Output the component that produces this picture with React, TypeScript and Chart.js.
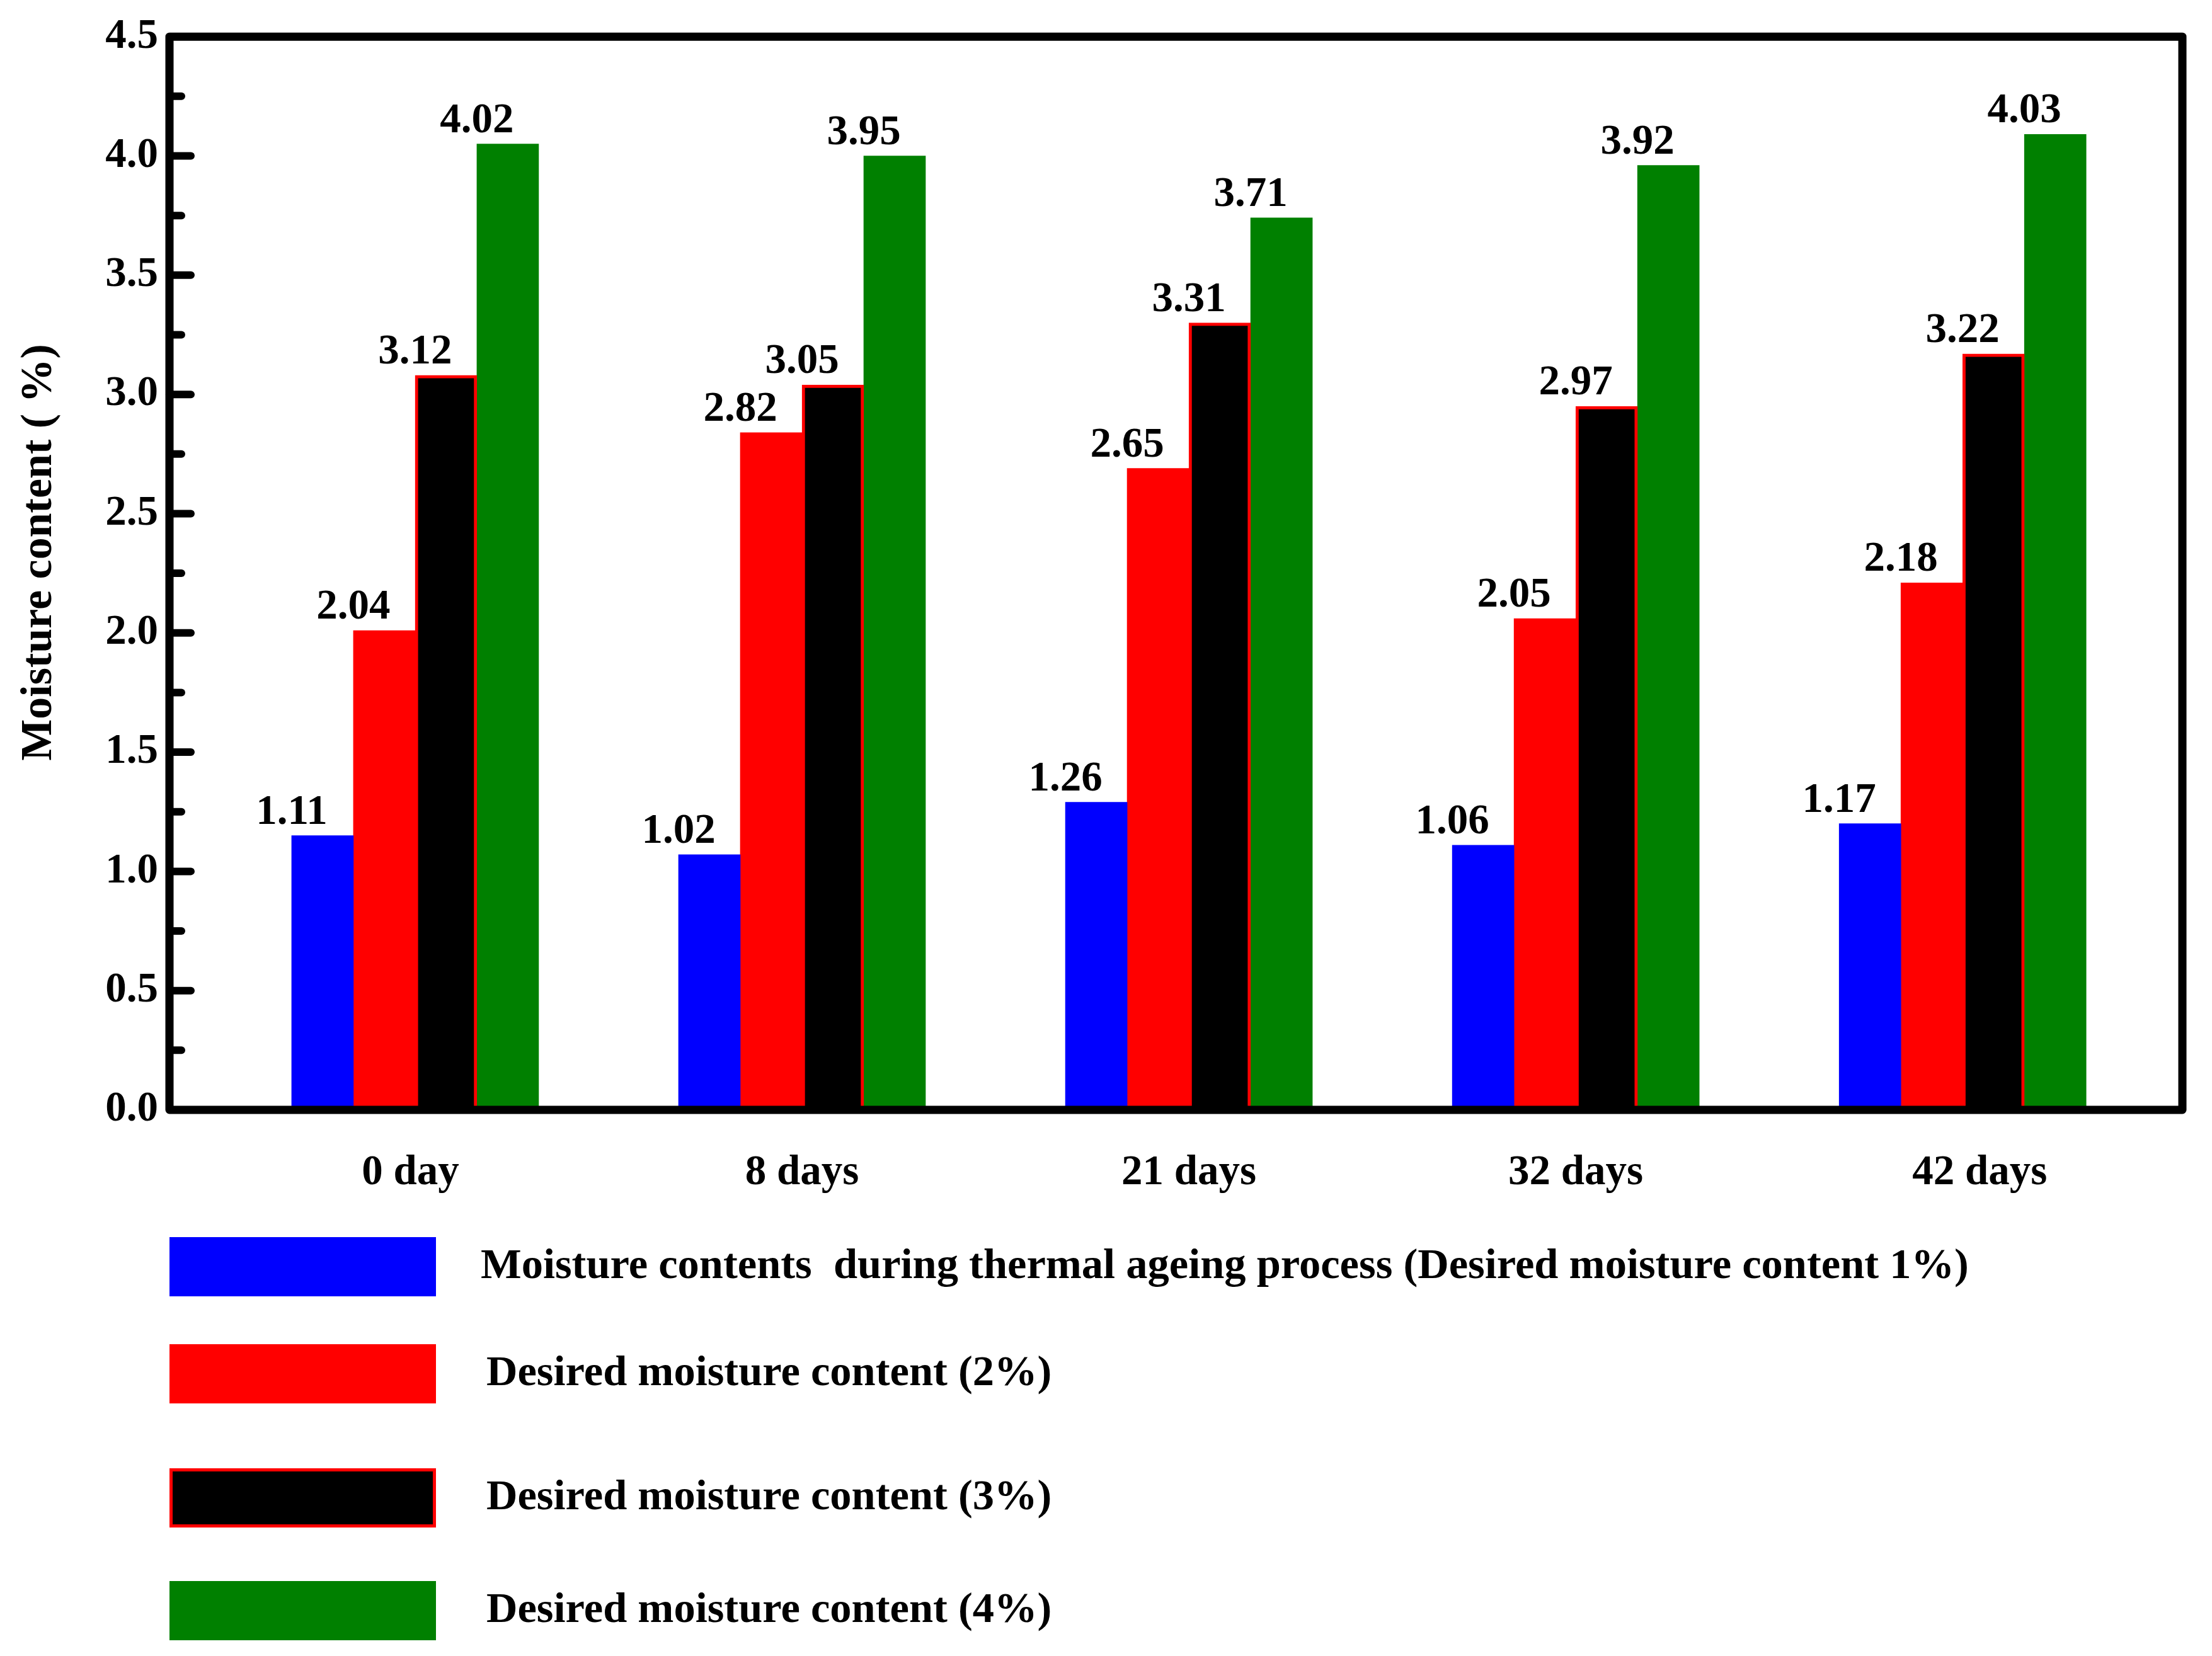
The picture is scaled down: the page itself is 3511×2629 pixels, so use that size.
import * as React from "react";
import { useEffect, useRef } from "react";
import { Chart, registerables } from "chart.js";

const days = ["0 day", "8 days", "21 days", "32 days", "42 days"];
const seriesNames = [
    "Moisture contents  during thermal ageing process (Desired moisture content 1%)",
    "Desired moisture content (2%)",
    "Desired moisture content (3%)",
    "Desired moisture content (4%)",
];
const yTitle = "Moisture content ( %)";
// bar heights
const blueValues = [1.15, 1.07, 1.29, 1.11, 1.2];
const redValues = [2.01, 2.84, 2.69, 2.06, 2.21];
const blackValues = [3.08, 3.04, 3.3, 2.95, 3.17];
const greenValues = [4.05, 4.0, 3.74, 3.96, 4.09];
// numbers printed above the bars
const blueLabels = ["1.11", "1.02", "1.26", "1.06", "1.17"];
const redLabels = ["2.04", "2.82", "2.65", "2.05", "2.18"];
const blackLabels = ["3.12", "3.05", "3.31", "2.97", "3.22"];
const greenLabels = ["4.02", "3.95", "3.71", "3.92", "4.03"];
const valueLabels = [blueLabels, redLabels, blackLabels, greenLabels];

// small horizontal nudges of the day labels (in category units), as in the original
const dayLabelNudge = [-0.012, 0, 0, 0, 0.044];

const FONT = "'Liberation Serif', 'Times New Roman', serif";
const FS = 67;

const frameAndTicks = {
    id: "frameAndTicks",
    afterDatasetsDraw(chart: any) {
        const { ctx, chartArea: a, scales } = chart;
        const y = scales.y;
        ctx.save();
        ctx.strokeStyle = "#000";
        ctx.lineCap = "round";
        ctx.lineWidth = 12;
        for (let i = 1; i < 18; i++) {
            const py = y.getPixelForValue(i * 0.25);
            const len = i % 2 === 0 ? 34 : 19;
            ctx.beginPath();
            ctx.moveTo(a.left, py);
            ctx.lineTo(a.left + len, py);
            ctx.stroke();
        }
        ctx.lineCap = "butt";
        ctx.lineJoin = "round";
        ctx.lineWidth = 13;
        ctx.strokeRect(a.left, a.top, a.right - a.left, a.bottom - a.top);

        // y axis title
        ctx.translate(63, 877);
        ctx.rotate(-Math.PI / 2);
        ctx.font = `bold 70px ${FONT}`;
        ctx.fillStyle = "#000";
        ctx.textAlign = "center";
        ctx.textBaseline = "middle";
        ctx.fillText(yTitle, 0, 0);
        ctx.restore();
    },
};

const barValueLabels = {
    id: "barValueLabels",
    afterDatasetsDraw(chart: any) {
        const { ctx } = chart;
        ctx.save();
        ctx.font = `bold ${FS}px ${FONT}`;
        ctx.fillStyle = "#000";
        ctx.textAlign = "center";
        ctx.textBaseline = "alphabetic";
        chart.data.datasets.forEach((ds: any, i: number) => {
            const meta = chart.getDatasetMeta(i);
            meta.data.forEach((bar: any, j: number) => {
                ctx.fillText(valueLabels[i][j], bar.x - bar.width / 2, bar.y - 19);
            });
        });
        ctx.restore();
    },
};

const rowCenters = [2011, 2181, 2378, 2557];

const stackedLegend = {
    id: "stackedLegend",
    afterDraw(chart: any) {
        const { ctx } = chart;
        const boxX = 269, boxW = 423, boxH = 94;
        ctx.save();
        chart.data.datasets.forEach((ds: any, i: number) => {
            const cy = rowCenters[i];
            ctx.fillStyle = ds.backgroundColor;
            ctx.fillRect(boxX, cy - boxH / 2, boxW, boxH);
            if (ds.borderWidth) {
                ctx.strokeStyle = ds.borderColor;
                ctx.lineWidth = ds.borderWidth;
                const h = ds.borderWidth / 2;
                ctx.strokeRect(boxX + h, cy - boxH / 2 + h, boxW - 2 * h, boxH - 2 * h);
            }
            ctx.font = `bold 68.5px ${FONT}`;
            ctx.fillStyle = "#000";
            ctx.textAlign = "left";
            ctx.textBaseline = "middle";
            ctx.fillText(ds.label, i === 0 ? 763 : 772, cy);
        });
        ctx.restore();
    },
};

function App() {
    const canvasRef = useRef<HTMLCanvasElement>(null);

    useEffect(() => {
        document.body.style.margin = "0";
        const ctx = canvasRef.current?.getContext("2d");
        if (!ctx) return;
        Chart.register(...registerables);

        const toPoints = (vals: number[]) => vals.map((v, i) => ({ x: i, y: v }));

        const chart = new Chart(ctx, {
            type: "bar",
            data: {
                datasets: [
                    { label: seriesNames[0], data: toPoints(blueValues), backgroundColor: "#0000ff", borderWidth: 0 },
                    { label: seriesNames[1], data: toPoints(redValues), backgroundColor: "#ff0000", borderWidth: 0 },
                    {
                        label: seriesNames[2],
                        data: toPoints(blackValues),
                        backgroundColor: "#000000",
                        borderColor: "#ff0000",
                        borderWidth: 5,
                        borderSkipped: false,
                    },
                    { label: seriesNames[3], data: toPoints(greenValues), backgroundColor: "#008000", borderWidth: 0 },
                ] as any,
            },
            options: {
                animation: false,
                responsive: true,
                maintainAspectRatio: false,
                layout: { padding: { top: 50, right: 47, bottom: 667, left: 0 } },
                datasets: { bar: { barThickness: 98 } } as any,
                plugins: {
                    legend: { display: false },
                    tooltip: { enabled: false },
                },
                scales: {
                    x: {
                        type: "linear",
                        min: -0.635,
                        max: 4.568,
                        offset: false,
                        grid: { display: false, drawTicks: false, offset: false },
                        border: { display: false },
                        afterBuildTicks: (scale: any) => {
                            scale.ticks = days.map((_, i) => ({ value: i + dayLabelNudge[i] }));
                        },
                        afterFit: (scale: any) => {
                            scale.height = 200;
                        },
                        ticks: {
                            autoSkip: false,
                            maxRotation: 0,
                            padding: 60,
                            color: "#000",
                            font: { family: FONT, size: FS, weight: "bold" },
                            callback: (_v: any, index: number) => days[index] ?? "",
                        },
                    },
                    y: {
                        min: 0,
                        max: 4.5,
                        grid: { display: false, drawTicks: false },
                        border: { display: false },
                        afterFit: (scale: any) => {
                            scale.width = 269;
                        },
                        ticks: {
                            stepSize: 0.5,
                            padding: 18,
                            color: "#000",
                            font: { family: FONT, size: FS, weight: "bold" },
                            callback: (v: any) => Number(v).toFixed(1),
                        },
                    },
                },
            } as any,
            plugins: [frameAndTicks, barValueLabels, stackedLegend],
        });

        return () => {
            chart.destroy();
        };
    }, []);

    return (
        <div style={{ position: "fixed", left: 0, top: 0, width: 3511, height: 2629, background: "#fff" }}>
            <canvas ref={canvasRef}></canvas>
        </div>
    );
}

export default App;
